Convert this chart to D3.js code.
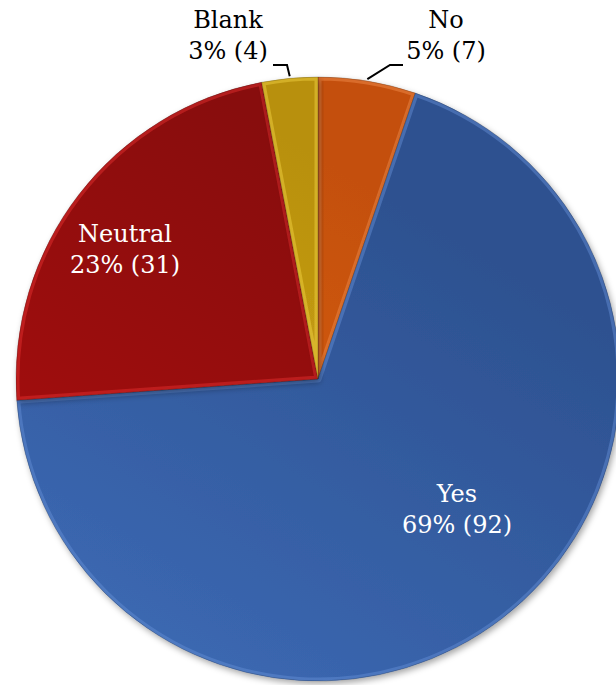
<!DOCTYPE html>
<html><head><meta charset="utf-8">
<script src="https://cdn.jsdelivr.net/npm/d3@7"></script>
<style>html,body{margin:0;padding:0;background:#fff;}svg{display:block;}</style>
</head><body>
<script>
const categories = ["No", "Yes", "Neutral", "Blank"];
const counts = [7, 92, 31, 4];
const total = d3.sum(counts);

const colorsTop = ["#c4500c", "#2d5190", "#880a0a", "#b8900e"];
const colorsBottom = ["#e8670f", "#4171bf", "#b50e0e", "#e2b820"];
const rimColors = ["#f39050", "#6790d8", "#e83030", "#f5d445"];

const W = 616, H = 685;
const cx = 318, cy = 379, R = 302;

const svg = d3.select("body").append("svg").attr("width", W).attr("height", H);
const defs = svg.append("defs");

const f = defs.append("filter").attr("id", "shadow").attr("x", "-10%").attr("y", "-10%").attr("width", "120%").attr("height", "120%");
f.append("feDropShadow").attr("dx", 2).attr("dy", 3).attr("stdDeviation", 3).attr("flood-color", "#000").attr("flood-opacity", 0.35);

categories.forEach((c, i) => {
  const g = defs.append("linearGradient").attr("id", "grad" + i)
    .attr("gradientUnits", "userSpaceOnUse")
    .attr("x1", cx + R * 0.6).attr("y1", cy - R).attr("x2", cx - R * 0.6).attr("y2", cy + R);
  g.append("stop").attr("offset", "0%").attr("stop-color", colorsTop[i]);
  g.append("stop").attr("offset", "100%").attr("stop-color", colorsBottom[i]);
});

const pie = d3.pie().sort(null).value(d => d.v);
const data = categories.map((c, i) => ({ c, v: counts[i], i }));
const arcs = pie(data);
const arc = d3.arc().innerRadius(0).outerRadius(R);

const g = svg.append("g").attr("transform", `translate(${cx},${cy})`);

arcs.forEach(a => {
  defs.append("clipPath").attr("id", "clip" + a.data.i)
    .append("path").attr("d", arc(a));
});

const slices = g.selectAll("g.slice").data(arcs).join("g").attr("class", "slice");
slices.append("path").attr("d", arc)
  .attr("fill", d => `url(#grad${d.data.i})`)
  .attr("filter", "url(#shadow)");
// bevel rim
slices.append("path").attr("d", arc)
  .attr("fill", "none")
  .attr("stroke", d => rimColors[d.data.i])
  .attr("stroke-width", 7)
  .attr("stroke-opacity", 0.45)
  .attr("stroke-linejoin", "round")
  .attr("clip-path", d => `url(#clip${d.data.i})`);
slices.append("path").attr("d", arc)
  .attr("fill", "none")
  .attr("stroke", "rgba(0,0,0,0.2)")
  .attr("stroke-width", 1);

const pct = v => Math.round(v / total * 100) + "% (" + v + ")";

const labelPos = {
  "No": [446, 28, "#000"],
  "Yes": [457, 502, "#fff"],
  "Neutral": [125, 242, "#fff"],
  "Blank": [228, 28, "#000"]
};

const lbl = svg.append("g").attr("font-family", "'DejaVu Serif', serif").attr("font-size", 24).attr("text-anchor", "middle");
arcs.forEach(a => {
  const [x, y, col] = labelPos[a.data.c];
  const t = lbl.append("text").attr("x", x).attr("y", y).attr("fill", col);
  t.append("tspan").attr("x", x).attr("dy", 0).text(a.data.c);
  t.append("tspan").attr("x", x).attr("dy", 31).text(pct(a.data.v));
});

const lead = svg.append("g").attr("fill", "none").attr("stroke", "#000").attr("stroke-width", 2);
const edge = (a) => {
  const ang = (a.startAngle + a.endAngle) / 2;
  return [cx + Math.sin(ang) * R, cy - Math.cos(ang) * R];
};
arcs.forEach(a => {
  if (a.data.c === "Blank") {
    const e = edge(a);
    lead.append("path").attr("d", d3.line()([[273, 65], [287, 65], [e[0], e[1] - 2]]));
  }
  if (a.data.c === "No") {
    const e = edge(a);
    lead.append("path").attr("d", d3.line()([[403, 65], [390, 65], [e[0], e[1] - 2]]));
  }
});
</script>
</body></html>
